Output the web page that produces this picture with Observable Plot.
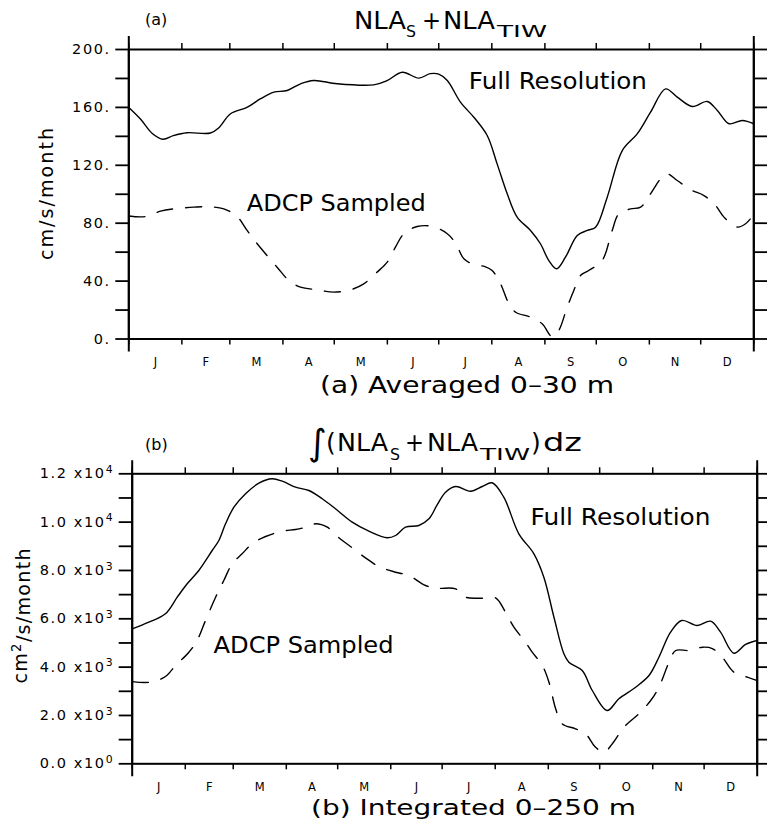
<!DOCTYPE html>
<html><head><meta charset="utf-8">
<script src="https://cdn.jsdelivr.net/npm/d3@7"></script>
<script src="https://cdn.jsdelivr.net/npm/@observablehq/plot@0.6"></script>
<style>
body{margin:0;background:#fff;}
#chart{width:767px;height:828px;position:relative;overflow:hidden;background:#fff;}
#chart svg{display:block;overflow:visible;}
g[aria-label="y-axis tick label"] text{letter-spacing:1.6px;}
</style></head><body><div id="chart"></div>
<script>
// ---- data ----
const monthLabels = ["J","F","M","A","M","J","J","A","S","O","N","D"];
const monthStarts = [0,31,59,90,120,151,181,212,243,273,304,334,365];
const yTicksA = [0,20,40,60,80,100,120,140,160,180,200];
const yTicksB = [0,1000,2000,3000,4000,5000,6000,7000,8000,9000,10000,11000,12000];

// (a) Averaged 0-30 m  (day of year, cm/s/month)
const fullADays = [0,6.8,13.7,20,26,34,47.7,52.6,59.4,69,77,84.7,92.5,100.3,108,121.7,143,151,159.7,169.4,176,181,186,193.7,201.5,209.3,215.1,221,226.8,234.6,240.4,245.3,249.8,255,261.9,267.7,272.6,279.4,288.2,296.9,304.7,313.5,320.3,329.1,337.8,343.7,350.5,358.3,365];
const fullAValues = [160,152,142,138,140.5,142.5,142.3,146,155.6,160,166,170.5,171.7,176.3,178.6,176.3,175.6,178.6,184.3,180.2,183.3,183,178.6,163.6,153.2,140.6,121,100.3,84.2,75,65.8,54.2,48.5,56.5,71.5,75,77.2,98,130.2,141.7,156.7,172.8,167.1,160.6,164.1,157.9,148.7,151,148.7];
const adcpADays = [0,9.8,18.5,26.3,38,46.7,55.5,63.3,69.1,75,86.6,93.5,100.3,110,119.7,129.5,137.2,145,150.9,155.7,160.6,168.4,177.1,186,190.8,195.7,201.5,208,212.2,217.1,222,225.9,234.6,241.4,247.3,251.1,256,259.9,263.8,268.6,276.4,282.3,286.2,293,298.9,304.7,310.6,314.4,320.3,328.1,335.9,342.7,347.6,355.4,360.2,365];
const adcpAValues = [85,84.6,88.3,89.9,91.1,91.4,89.9,84.6,75,65.8,49.6,40.4,35.8,34,32.4,34,38.1,46.2,53.1,63.4,72.7,77.7,77.8,72.7,66.2,55.4,51.5,50,47.3,38.1,24.3,18.5,15.1,10.5,1.5,5.9,22,33.5,43.9,47.3,54.2,75,86.5,89.9,91.1,100.3,110.7,114.1,109.5,103.1,99.1,92.2,84.2,77.3,79.6,86];

// (b) Integrated 0-250 m  (day of year, cm2/s/month)
const fullBDays = [0,9.7,19.4,26.3,32.1,38.9,46.7,50.6,54.5,59.4,66.2,74,81.7,87.6,95.4,103.2,111,118.7,128.5,138.2,148.9,153.8,159.6,167.4,173.3,178,183,188.9,197.6,204.4,210.2,217,225.8,234.6,240.4,246.3,252.1,255,262.8,268.7,277.4,284.2,294,301.8,307.6,314.4,320.9,330,337.8,343.6,351.4,358.2,365];
const fullBValues = [5586,5860,6207,6894,7448,7999,8826,9240,9931,10618,11173,11612,11793,11694,11446,11309,10966,10552,9997,9625,9352,9447,9791,9861,10138,10700,11239,11475,11280,11475,11628,11032,9517,8690,7722,6066,4552,4204,3861,3033,2206,2690,3170,3654,4411,5446,5930,5723,5901,5446,4577,4937,5102];
const adcpBDays = [0,10.7,19.4,25.3,33.1,37.9,42.8,48.7,53.5,58.4,64.2,70,77.9,87.6,95.4,102,107.1,113.9,120.7,128.5,136.2,144,153.8,161.6,171.3,178.1,188.9,194.7,204.4,212.2,218,222.9,229.7,233.6,239.5,243.4,247.3,251.1,258.9,264.8,270.6,275.5,280.4,287.2,295.9,302.8,307.6,313.5,317.4,325.2,333,338.8,344.6,351.4,359.2,365];
const adcpBValues = [3400,3379,3612,4068,4618,5102,5930,6894,7585,8276,8690,9104,9406,9625,9695,9800,9931,9790,9352,8938,8524,8164,7928,7792,7378,7266,7239,6894,6853,6866,6273,5653,5032,4618,4068,3377,2276,1655,1448,1241,687,480,828,1514,2069,2619,3170,4204,4688,4688,4825,4770,4411,3790,3584,3447];

const seriesLabelsA = [{day:198.6, v:172.9, t:"Full Resolution", w:178}, {day:68.9, v:88.3, t:"ADCP Sampled", w:179}];
const seriesLabelsB = [{day:232.6, v:9861, t:"Full Resolution", w:180}, {day:47.5, v:4577, t:"ADCP Sampled", w:180}];

// ---- helpers ----
const FONT = "'DejaVu Sans', sans-serif";
const rows = (days, vals) => days.map((d, i) => ({day: d, v: vals[i]}));
const monthMids = monthStarts.slice(0, 12).map((s, i) => (s + monthStarts[i + 1]) / 2);
const fmtB = d => { if (d % 2000 !== 0) return ""; if (d === 0) return "0.0 x10^0"; const e = Math.floor(Math.log10(d)); return (d / 10 ** e).toFixed(1) + " x10^" + e; };

function panel({height, mt, mb, ml, mr, yDomain, yTicks, yFormat, full, adcp, labels, dash}) {
  return Plot.plot({
    width: 767, height, marginTop: mt, marginBottom: mb, marginLeft: ml, marginRight: mr,
    x: {domain: [0, 365]},
    y: {domain: yDomain},
    style: {fontFamily: FONT, fontSize: "14.5px", color: "#000", background: "#fff", overflow: "visible"},
    marks: [
      Plot.line(full, {x: "day", y: "v", curve: "catmull-rom", stroke: "#000", strokeWidth: 1.4, clip: true}),
      Plot.line(adcp, {x: "day", y: "v", curve: "catmull-rom", stroke: "#000", strokeWidth: 1.4, strokeDasharray: dash, clip: true}),
      Plot.axisY({ticks: yTicks, tickSize: 13, tickPadding: 5, tickFormat: yFormat, strokeWidth: 1.8, label: null}),
      Plot.axisY({anchor: "right", ticks: yTicks, tickSize: 14, tickFormat: () => "", strokeWidth: 1.8, label: null}),
      Plot.axisX({anchor: "top", ticks: monthStarts, tickSize: 7, tickFormat: () => "", strokeWidth: 1.5, label: null}),
      Plot.axisX({anchor: "bottom", ticks: monthStarts, tickSize: 6, tickFormat: () => "", strokeWidth: 1.5, label: null}),
      Plot.axisX({anchor: "bottom", ticks: monthMids, tickSize: 0, tickPadding: 19, fontSize: 11.5,
        tickFormat: d => monthLabels[monthMids.indexOf(d)], label: null}),
      Plot.frame({stroke: "#000", strokeWidth: 2}),
      Plot.ruleX([0, 365], {stroke: "#000", strokeWidth: 2, insetTop: -13, insetBottom: -13}),
      Plot.text(labels, {x: "day", y: "v", text: "t", textAnchor: "start", lineAnchor: "bottom", fontSize: 23, fill: "#000"})
    ]
  });
}

function addText(svg, parts) {
  const s = d3.select(svg);
  return parts.map(p => {
    const t = s.append("text").attr("x", p.x).attr("y", p.y)
      .attr("font-family", FONT).attr("font-size", p.size).attr("fill", "#000")
      .attr("text-anchor", p.anchor || "start");
    if (p.w) t.attr("textLength", p.w).attr("lengthAdjust", p.adjust || "spacingAndGlyphs");
    if (p.transform) t.attr("transform", p.transform);
    if (p.sup) {
      t.append("tspan").text(p.text);
      t.append("tspan").attr("dy", "-0.45em").attr("font-size", "0.7em").text(p.sup);
      t.append("tspan").attr("dy", "0.45em").text(p.after);
    } else t.text(p.text);
    return t;
  });
}

function fixLabels(svg, labels) {
  d3.select(svg).selectAll("text").each(function() {
    const txt = this.textContent;
    const lab = labels.find(l => l.t === txt);
    if (lab) { this.setAttribute("textLength", lab.w); this.setAttribute("lengthAdjust", "spacingAndGlyphs"); }
    if (txt.includes("^")) {
      const [a, b] = txt.split("^");
      const sel = d3.select(this);
      sel.text(a);
      sel.append("tspan").attr("dy", "-0.5em").attr("font-size", "0.75em").text(b);
    }
  });
}

// ---- panel (a) ----
const svgA = panel({height: 420, mt: 49, mb: 81.5, ml: 128.3, mr: 13.7, yDomain: [0, 200], yTicks: yTicksA,
  yFormat: d => d % 40 === 0 ? d + "." : "", full: rows(fullADays, fullAValues), adcp: rows(adcpADays, adcpAValues),
  labels: seriesLabelsA, dash: "16,13"});
fixLabels(svgA, seriesLabelsA);
addText(svgA, [
  {x: 145, y: 25, size: 16, text: "(a)"},
  {x: 354, y: 29, size: 25, text: "NLA", w: 52},
  {x: 406, y: 37, size: 16, text: "S", w: 10},
  {x: 422, y: 29, size: 25, text: "+", w: 19},
  {x: 443, y: 29, size: 25, text: "NLA", w: 52},
  {x: 497, y: 37, size: 16, text: "TIW", w: 50},
  {x: 320, y: 393, size: 23, text: "(a) Averaged 0\u201330 m", w: 294},
  {x: 0, y: 0, size: 19, text: "cm/s/month", w: 132, adjust: "spacing", anchor: "middle", transform: "translate(53,194) rotate(-90)"}
]);

// ---- panel (b) ----
const svgB = panel({height: 408, mt: 53.3, mb: 64.7, ml: 131.7, mr: 10.3, yDomain: [0, 12000], yTicks: yTicksB,
  yFormat: fmtB, full: rows(fullBDays, fullBValues), adcp: rows(adcpBDays, adcpBValues),
  labels: seriesLabelsB, dash: "16,13"});
fixLabels(svgB, seriesLabelsB);
addText(svgB, [
  {x: 145, y: 30, size: 16, text: "(b)"},
  {x: 308, y: 35, size: 36, text: "\u222B"},
  {x: 326, y: 31, size: 25, text: "("},
  {x: 337, y: 31, size: 25, text: "NLA", w: 51},
  {x: 390, y: 40, size: 16, text: "S", w: 10},
  {x: 405, y: 31, size: 25, text: "+", w: 19},
  {x: 427, y: 31, size: 25, text: "NLA", w: 51},
  {x: 480, y: 40, size: 16, text: "TIW", w: 50},
  {x: 531, y: 31, size: 25, text: ")"},
  {x: 543, y: 31, size: 25, text: "dz", w: 39},
  {x: 311, y: 395, size: 22, text: "(b) Integrated 0\u2013250 m", w: 325},
  {x: 0, y: 0, size: 19, text: "cm", sup: "2", after: "/s/month", w: 135, adjust: "spacing", anchor: "middle", transform: "translate(27,196) rotate(-90)"}
]);

document.getElementById("chart").append(svgA, svgB);
</script>
</body></html>
